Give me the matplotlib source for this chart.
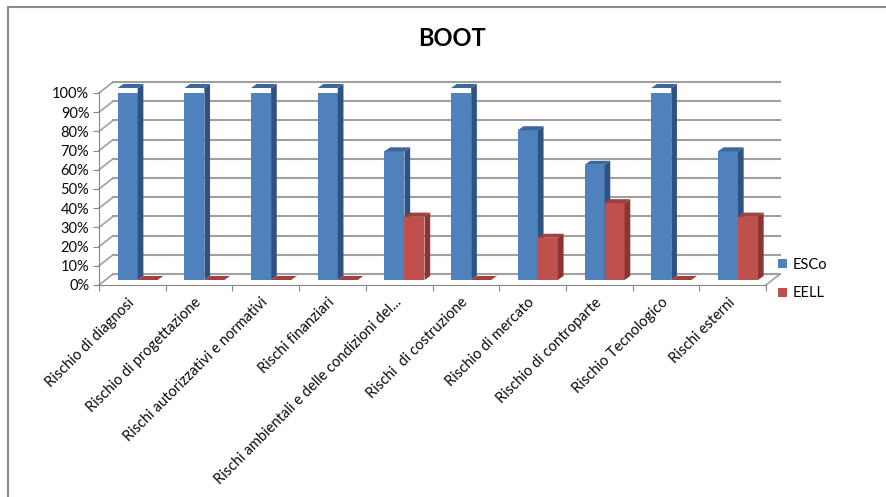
import matplotlib
matplotlib.use("Agg")
import matplotlib.pyplot as plt
from matplotlib.patches import Polygon, Patch
from matplotlib.lines import Line2D

plt.rcParams['font.family'] = ['Lato', 'DejaVu Sans']

categories = ["Rischio di diagnosi", "Rischio di progettazione",
              "Rischi autorizzativi e normativi", "Rischi finanziari",
              "Rischi ambientali e delle condizioni del...", "Rischi  di costruzione",
              "Rischio di mercato", "Rischio di controparte",
              "Rischio Tecnologico", "Rischi esterni"]
esco = [1.00, 1.00, 1.00, 1.00, 0.67, 1.00, 0.78, 0.60, 1.00, 0.67]
eell = [0.00, 0.00, 0.00, 0.00, 0.33, 0.00, 0.22, 0.40, 0.00, 0.33]
yticks = [i / 10 for i in range(11)]
ytick_labels = ["%d%%" % (i * 10) for i in range(11)]

# 3d look: wall offset, bar plane offset and bar depth (data units)
wx, wy = 0.21, 0.057
by0 = 0.026
dx, dy = 0.085, 0.021
bw = 0.3
grid_c = "#a0a0a0"

fig = plt.figure(figsize=(8.86, 4.97), dpi=100)
ax = fig.add_axes([99 / 886, 1 - 285 / 497, 667 / 886, 192 / 497])
ax.set_xlim(-0.5, 9.5)
ax.set_ylim(0, 1)

# back wall gridlines and side wall diagonals
for v in yticks:
    ax.plot([-0.5 + wx, 9.5 + wx], [v + wy, v + wy], color=grid_c, lw=1.5,
            clip_on=False, zorder=1)
    ax.plot([-0.5, -0.5 + wx], [v, v + wy], color=grid_c, lw=1.2,
            clip_on=False, zorder=1)
ax.plot([9.5, 9.5 + wx], [0, wy], color=grid_c, lw=1.2, clip_on=False, zorder=1)


def bar3d(x, h, front, side, top):
    y0 = by0
    ax.bar(x, h, width=bw, bottom=y0, align='edge', color=front,
           edgecolor='none', zorder=3)
    x1 = x + bw
    ax.add_patch(Polygon([(x1, y0), (x1 + dx, y0 + dy), (x1 + dx, y0 + h + dy), (x1, y0 + h)],
                         closed=True, facecolor=side, edgecolor='none', zorder=3, clip_on=False))
    ax.add_patch(Polygon([(x, y0 + h), (x + dx, y0 + h + dy), (x1 + dx, y0 + h + dy), (x1, y0 + h)],
                         closed=True, facecolor=top, edgecolor='none', zorder=3, clip_on=False))


for i in range(len(categories)):
    bar3d(i - 0.22, esco[i], "#4f81bd", "#2f5283", "#3c679c")
    bar3d(i + 0.08, eell[i], "#c0504d", "#8a3533", "#a3403d")

# axes lines and ticks
for s in ["top", "right"]:
    ax.spines[s].set_visible(False)
ax.spines["left"].set_color("#868686")
ax.spines["bottom"].set_color("#868686")
ax.set_yticks(yticks, ytick_labels)
ax.tick_params(axis='y', length=4, color="#868686", labelsize=10.5, pad=3,
               labelcolor="#0a0a0a")
ax.set_xticks([i - 0.5 for i in range(11)], [""] * 11)
ax.tick_params(axis='x', length=4, color="#868686")

for i, c in enumerate(categories):
    ax.text(i + 0.0, -0.08, c, rotation=45, ha='right', va='center',
            rotation_mode='anchor', fontsize=10.5, color="#0a0a0a", clip_on=False)

fig.text(452 / 886, 1 - 38 / 497, "BOOT", ha='center', va='center',
         fontsize=17, fontweight='bold')

handles = [Patch(facecolor="#4f81bd", label="ESCo"), Patch(facecolor="#c0504d", label="EELL")]
fig.legend(handles=handles, loc='center left', bbox_to_anchor=(771 / 886, 1 - 279 / 497),
           frameon=False, fontsize=10.5, handlelength=0.6, handleheight=0.6,
           handletextpad=0.4, labelspacing=1.0, borderpad=0)

# chart border (top and left visible)
fig.add_artist(Line2D([8 / 886, 1], [1 - 7 / 497, 1 - 7 / 497], color="#8c8c8c", lw=1.5))
fig.add_artist(Line2D([8 / 886, 8 / 886], [0, 1 - 7 / 497], color="#8c8c8c", lw=1.5))

fig.savefig("out.png", dpi=100)
